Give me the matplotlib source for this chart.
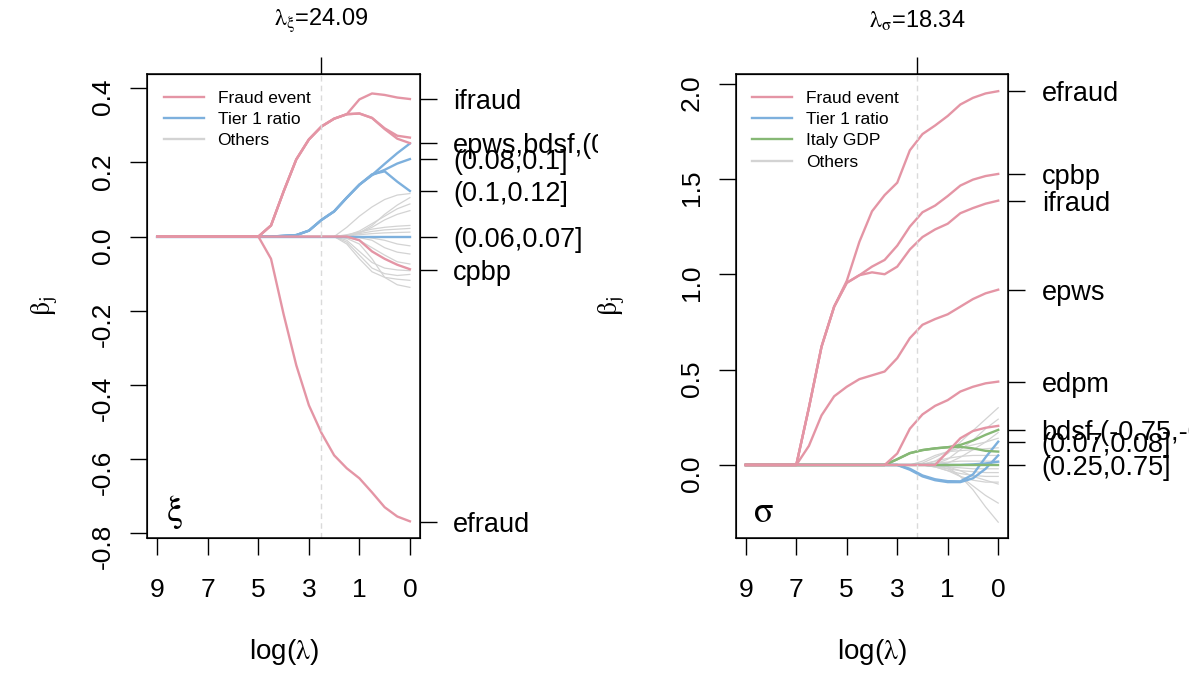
import matplotlib
matplotlib.use("Agg")
import matplotlib.pyplot as plt
from matplotlib.lines import Line2D
from matplotlib.transforms import Bbox, TransformedBbox, blended_transform_factory

plt.rcParams["font.family"] = ["Liberation Sans", "DejaVu Sans"]
plt.rcParams["mathtext.fontset"] = "stix"

# positions along the path (ticks are equally spaced, labelled 9 7 5 3 1 0)
lam_pos = [0.0, 0.25, 0.5, 0.75, 1.0, 1.25, 1.5, 1.75, 2.0, 2.25, 2.5,
           2.75, 3.0, 3.25, 3.5, 3.75, 4.0, 4.25, 4.5, 4.75, 5.0]
lam_tick_pos = [0, 1, 2, 3, 4, 5]
lam_tick_labels = ["9", "7", "5", "3", "1", "0"]

# ---- xi panel ----
xi_lambda_pos = 3.24
xi_lambda_text = "=24.09"
xi_ifraud = [0.0] * 9 + [0.03, 0.122, 0.208, 0.262, 0.297, 0.318, 0.33, 0.37, 0.386, 0.382, 0.375, 0.371]
xi_epws = [0.0] * 9 + [0.03, 0.122, 0.208, 0.262, 0.297, 0.318, 0.33, 0.332, 0.32, 0.292, 0.272, 0.267]
xi_bdsf = [0.0] * 9 + [0.03, 0.122, 0.208, 0.262, 0.297, 0.318, 0.33, 0.332, 0.32, 0.29, 0.264, 0.252]
xi_efraud = [0.0] * 9 + [-0.06, -0.21, -0.347, -0.455, -0.53, -0.59, -0.625, -0.652, -0.69, -0.73, -0.755, -0.768]
xi_cpbp = [0.0] * 16 + [-0.01, -0.04, -0.06, -0.076, -0.088]

xi_t1_a = [0.0] * 10 + [0.002, 0.004, 0.016, 0.045, 0.068, 0.105, 0.14, 0.166, 0.196, 0.225, 0.251]
xi_t1_b = [0.0] * 10 + [0.002, 0.004, 0.016, 0.045, 0.068, 0.105, 0.14, 0.166, 0.18, 0.197, 0.209]
xi_t1_c = [0.0] * 10 + [0.002, 0.004, 0.016, 0.045, 0.068, 0.105, 0.14, 0.168, 0.176, 0.148, 0.123]
xi_t1_d = [0.0] * 21

xi_other_1 = [0.0] * 15 + [0.025, 0.055, 0.08, 0.1, 0.112, 0.116]
xi_other_2 = [0.0] * 15 + [0.0, 0.01, 0.03, 0.06, 0.085, 0.105]
xi_other_3 = [0.0] * 15 + [0.003, 0.015, 0.035, 0.055, 0.075, 0.088]
xi_other_4 = [0.0] * 15 + [0.005, 0.012, 0.02, 0.025, 0.028, 0.03]
xi_other_5 = [0.0] * 15 + [0.003, 0.008, 0.014, 0.018, 0.02, 0.022]
xi_other_6 = [0.0] * 15 + [0.002, 0.005, 0.008, 0.01, 0.011, 0.012]
xi_other_7 = [0.0] * 15 + [-0.02, -0.06, -0.095, -0.11, -0.115, -0.118]
xi_other_8 = [0.0] * 15 + [-0.015, -0.05, -0.085, -0.1, -0.105, -0.102]
xi_other_9 = [0.0] * 15 + [-0.005, -0.02, -0.06, -0.11, -0.13, -0.137]
xi_other_10 = [0.0] * 15 + [-0.003, -0.01, -0.03, -0.05, -0.068, -0.074]
xi_other_11 = [0.0] * 15 + [0.0, -0.003, -0.01, -0.03, -0.042, -0.047]
xi_other_12 = [0.0] * 15 + [0.0, 0.0, -0.004, -0.01, -0.02, -0.025]
xi_other_13 = [0.0] * 15 + [-0.01, -0.04, -0.07, -0.085, -0.09, -0.092]
xi_other_14 = [0.0] * 15 + [0.002, 0.01, 0.025, 0.045, 0.06, 0.07]

xi_yticks = [-0.8, -0.6, -0.4, -0.2, 0.0, 0.2, 0.4]
xi_yticklabels = ["-0.8", "-0.6", "-0.4", "-0.2", "0.0", "0.2", "0.4"]
xi_label_vals = [0.372, 0.252, 0.209, 0.124, 0.0, -0.089, -0.77]
xi_label_names = ["ifraud", "epws,bdsf,(0.12,0.2]", "(0.08,0.1]", "(0.1,0.12]",
                  "(0.06,0.07]", "cpbp", "efraud"]

# ---- sigma panel ----
sg_lambda_pos = 3.39
sg_lambda_text = "=18.34"
sg_efraud = [0.0] * 5 + [0.30, 0.62, 0.83, 0.965, 1.17, 1.33, 1.415, 1.48, 1.65, 1.735, 1.78, 1.83, 1.89, 1.925, 1.948, 1.96]
sg_cpbp = [0.0] * 5 + [0.30, 0.62, 0.83, 0.955, 0.995, 1.04, 1.075, 1.15, 1.25, 1.325, 1.36, 1.41, 1.465, 1.496, 1.515, 1.526]
sg_ifraud = [0.0] * 5 + [0.30, 0.62, 0.83, 0.955, 0.995, 1.01, 1.0, 1.04, 1.13, 1.195, 1.235, 1.265, 1.32, 1.347, 1.37, 1.386]
sg_epws = [0.0] * 5 + [0.10, 0.26, 0.36, 0.41, 0.45, 0.47, 0.49, 0.56, 0.665, 0.735, 0.765, 0.79, 0.83, 0.87, 0.9, 0.919]
sg_edpm = [0.0] * 12 + [0.06, 0.19, 0.265, 0.31, 0.34, 0.385, 0.41, 0.428, 0.437]
sg_bdsf = [0.0] * 16 + [0.07, 0.14, 0.178, 0.195, 0.205]

sg_t1_a = [0.0] * 13 + [-0.02, -0.055, -0.075, -0.085, -0.086, -0.05, 0.04, 0.122]
sg_t1_b = [0.0] * 13 + [-0.025, -0.06, -0.08, -0.09, -0.09, -0.07, -0.02, 0.05]
sg_t1_c = [0.0] * 17 + [0.0, 0.003, 0.008, 0.017]

sg_gdp_a = [0.0] * 11 + [0.0, 0.03, 0.062, 0.078, 0.087, 0.093, 0.095, 0.087, 0.074, 0.07]
sg_gdp_b = [0.0] * 11 + [0.0, 0.03, 0.062, 0.078, 0.087, 0.093, 0.105, 0.128, 0.158, 0.184]
sg_gdp_c = [0.0] * 21

sg_other_1 = [0.0] * 14 + [0.005, 0.02, 0.06, 0.12, 0.18, 0.24, 0.30]
sg_other_2 = [0.0] * 15 + [0.005, 0.03, 0.08, 0.13, 0.19, 0.24]
sg_other_3 = [0.0] * 14 + [0.01, 0.04, 0.07, 0.09, 0.105, 0.12, 0.14]
sg_other_4 = [0.0] * 14 + [0.02, 0.05, 0.07, 0.075, 0.08, 0.085, 0.09]
sg_other_5 = [0.0] * 15 + [0.02, 0.035, 0.045, 0.05, 0.05, 0.05]
sg_other_6 = [0.0] * 15 + [0.01, 0.015, 0.02, 0.02, 0.02, 0.02]
sg_other_7 = [0.0] * 15 + [-0.005, -0.01, -0.015, -0.02, -0.02, -0.02]
sg_other_8 = [0.0] * 15 + [-0.01, -0.02, -0.03, -0.035, -0.04, -0.04]
sg_other_9 = [0.0] * 15 + [-0.01, -0.03, -0.045, -0.055, -0.06, -0.06]
sg_other_10 = [0.0] * 15 + [-0.01, -0.03, -0.06, -0.08, -0.09, -0.09]
sg_other_11 = [0.0] * 15 + [0.0, -0.02, -0.06, -0.11, -0.16, -0.2]
sg_other_12 = [0.0] * 15 + [0.0, -0.01, -0.06, -0.13, -0.22, -0.30]
sg_other_13 = [0.0] * 15 + [0.0, -0.01, -0.03, -0.06, -0.08, -0.1]
sg_other_14 = [0.0] * 16 + [0.01, 0.04, 0.08, 0.12, 0.17]

sg_yticks = [0.0, 0.5, 1.0, 1.5, 2.0]
sg_yticklabels = ["0.0", "0.5", "1.0", "1.5", "2.0"]
sg_label_vals = [1.96, 1.526, 1.382, 0.919, 0.437, 0.184, 0.122, 0.0]
sg_label_names = ["efraud", "cpbp", "ifraud", "epws", "edpm", "bdsf,(-0.75,-0.25]",
                  "(0.07,0.08]", "(0.25,0.75]"]

PINK = "#E495A5"
BLUE = "#7DB0DD"
GREEN = "#86B875"
GRAY = "#D3D3D3"
W, H = 1189, 673


def draw_panel(ax, others, blues, greens, pinks, ylim, yticks, yticklabels,
               lab_vals, lab_names, lam_at, lam_sym, lam_text, letter,
               legend_items, ylab_x):
    for vals in others:
        ax.plot(lam_pos, vals, color=GRAY, lw=0.9)
    for vals in blues:
        ax.plot(lam_pos, vals, color=BLUE, lw=1.7)
    for vals in greens:
        ax.plot(lam_pos, vals, color=GREEN, lw=1.7)
    for vals in pinks:
        ax.plot(lam_pos, vals, color=PINK, lw=1.7)
    ax.axvline(lam_at, color="#DADADA", lw=1.0, ls=(0, (4, 3)))

    ax.set_xlim(-0.2, 5.2)
    ax.set_ylim(*ylim)
    ax.set_xticks(lam_tick_pos, lam_tick_labels)
    ax.set_yticks(yticks, yticklabels)
    ax.tick_params(axis="both", length=12, width=1.0, labelsize=19, color="black")
    ax.tick_params(axis="x", pad=17)
    ax.tick_params(axis="y", pad=11, labelrotation=90)
    for sp in ax.spines.values():
        sp.set_linewidth(1.1)

    # labels on the right side
    tw = ax.twinx()
    tw.set_ylim(*ylim)
    tw.set_yticks(lab_vals, lab_names)
    tw.tick_params(axis="y", length=12, width=1.0, labelsize=19.5, pad=12)

    # single tick on top at the chosen lambda
    top = ax.secondary_xaxis("top")
    top.set_xticks([lam_at], [""])
    top.tick_params(length=12, width=1.0)

    tr = blended_transform_factory(ax.transData, ax.transAxes)
    ax.text(lam_at, 1.115, r"$\mathrm{\lambda_{" + lam_sym + r"}}$" + lam_text,
            transform=tr, ha="center", va="center", fontsize=17)

    ax.set_xlabel("log(" + r"$\mathrm{\lambda}$" + ")", fontsize=20, va="center")
    ax.xaxis.set_label_coords(0.5, -0.2457)
    ax.set_ylabel(r"$\mathrm{\beta_j}$", fontsize=20, va="center")
    ax.yaxis.set_label_coords(ylab_x, 0.5)

    ax.text(0.1, 0.056, r"$\mathrm{" + letter + "}$", transform=ax.transAxes,
            ha="center", va="center", fontsize=26)

    handles = [Line2D([], [], color=c, lw=1.7) for c, _ in legend_items]
    ax.legend(handles, [t for _, t in legend_items], loc="upper left",
              frameon=False, fontsize=12.5, handlelength=2.3, handletextpad=0.8,
              labelspacing=0.36, borderaxespad=0.55, borderpad=0.4)
    return tw


fig = plt.figure(figsize=(W / 100, H / 100), dpi=100)
ax1 = fig.add_axes([147.3 / W, 1 - 538 / H, (420 - 147.3) / W, 464 / H])
ax2 = fig.add_axes([735.7 / W, 1 - 538 / H, (1008.3 - 735.7) / W, 464 / H])

tw1 = draw_panel(
    ax1,
    [xi_other_1, xi_other_2, xi_other_3, xi_other_4, xi_other_5, xi_other_6, xi_other_7,
     xi_other_8, xi_other_9, xi_other_10, xi_other_11, xi_other_12, xi_other_13, xi_other_14],
    [xi_t1_a, xi_t1_b, xi_t1_c, xi_t1_d],
    [],
    [xi_ifraud, xi_epws, xi_bdsf, xi_efraud, xi_cpbp],
    (-0.813, 0.4385), xi_yticks, xi_yticklabels,
    xi_label_vals, xi_label_names, xi_lambda_pos, r"\xi", xi_lambda_text, r"\xi",
    [(PINK, "Fraud event"), (BLUE, "Tier 1 ratio"), (GRAY, "Others")],
    -0.377,
)
tw2 = draw_panel(
    ax2,
    [sg_other_1, sg_other_2, sg_other_3, sg_other_4, sg_other_5, sg_other_6, sg_other_7,
     sg_other_8, sg_other_9, sg_other_10, sg_other_11, sg_other_12, sg_other_13, sg_other_14],
    [sg_t1_a, sg_t1_b, sg_t1_c],
    [sg_gdp_a, sg_gdp_b, sg_gdp_c],
    [sg_efraud, sg_cpbp, sg_ifraud, sg_epws, sg_edpm, sg_bdsf],
    (-0.383, 2.05), sg_yticks, sg_yticklabels,
    sg_label_vals, sg_label_names, sg_lambda_pos, r"\sigma", sg_lambda_text, r"\sigma",
    [(PINK, "Fraud event"), (BLUE, "Tier 1 ratio"), (GREEN, "Italy GDP"), (GRAY, "Others")],
    -0.454,
)

# left panel labels are cut at the edge of its figure region
clip = TransformedBbox(Bbox([[0, 0], [598 / W, 1]]), fig.transFigure)
for lbl in tw1.get_yticklabels():
    lbl.set_clip_box(clip)
    lbl.set_clip_on(True)

fig.savefig("out.png", dpi=100)
